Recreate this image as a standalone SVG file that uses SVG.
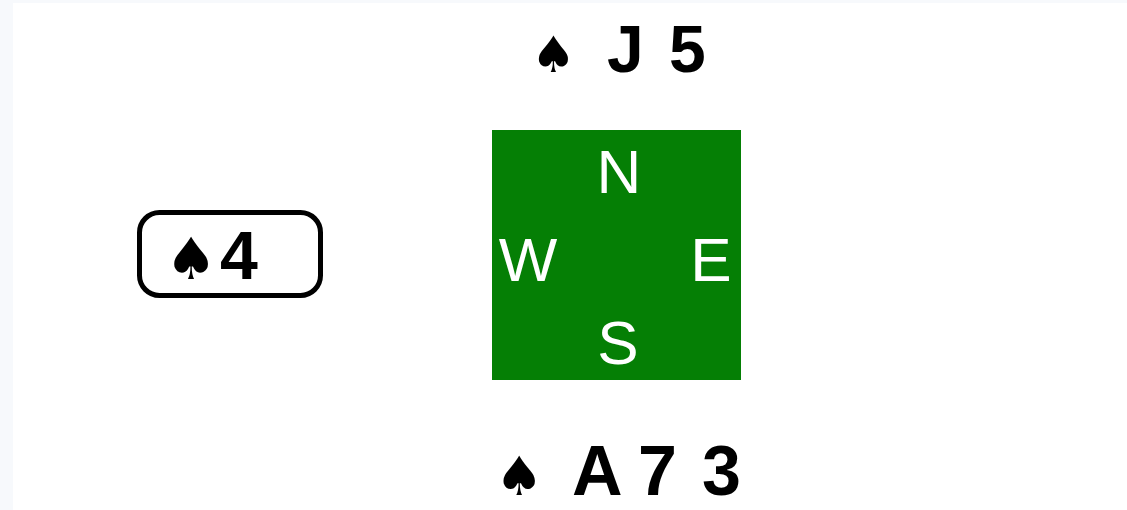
<svg xmlns="http://www.w3.org/2000/svg" width="1127" height="510" viewBox="0 0 1127 510">
<style>
.t{font-family:"Liberation Sans",Arial,sans-serif;font-weight:bold;fill:#000}
.s{font-family:"DejaVu Sans",sans-serif;fill:#000}
.w{font-family:"Liberation Sans",Arial,sans-serif;fill:#fff;text-anchor:middle;font-size:62px}
</style>
<rect x="0" y="0" width="1127" height="510" fill="#f7f9fc"/>
<rect x="13" y="3" width="1114" height="507" fill="#fff"/>
<g id="north">
<text class="s" x="531" y="72" font-size="50">♠</text>
<text class="t" x="607" y="72" font-size="66">J</text>
<text class="t" x="669" y="72" font-size="66">5</text>
</g>
<g id="table">
<rect x="492" y="130" width="249" height="250" fill="#057f05"/>
<text class="w" x="619" y="193">N</text>
<text class="w" x="528" y="281">W</text>
<text class="w" x="711" y="281">E</text>
<text class="w" x="618" y="364">S</text>
</g>
<g id="west">
<rect x="139.5" y="212.5" width="181" height="83" rx="20" fill="none" stroke="#000" stroke-width="5"/>
<text class="s" x="165" y="279" font-size="58">♠</text>
<text class="t" x="220" y="279" font-size="68">4</text>
</g>
<g id="south">
<text class="s" x="495" y="495" font-size="54">♠</text>
<text class="t" x="572" y="495" font-size="70">A</text>
<text class="t" x="638" y="495" font-size="70">7</text>
<text class="t" x="702" y="495" font-size="70">3</text>
</g>
</svg>
